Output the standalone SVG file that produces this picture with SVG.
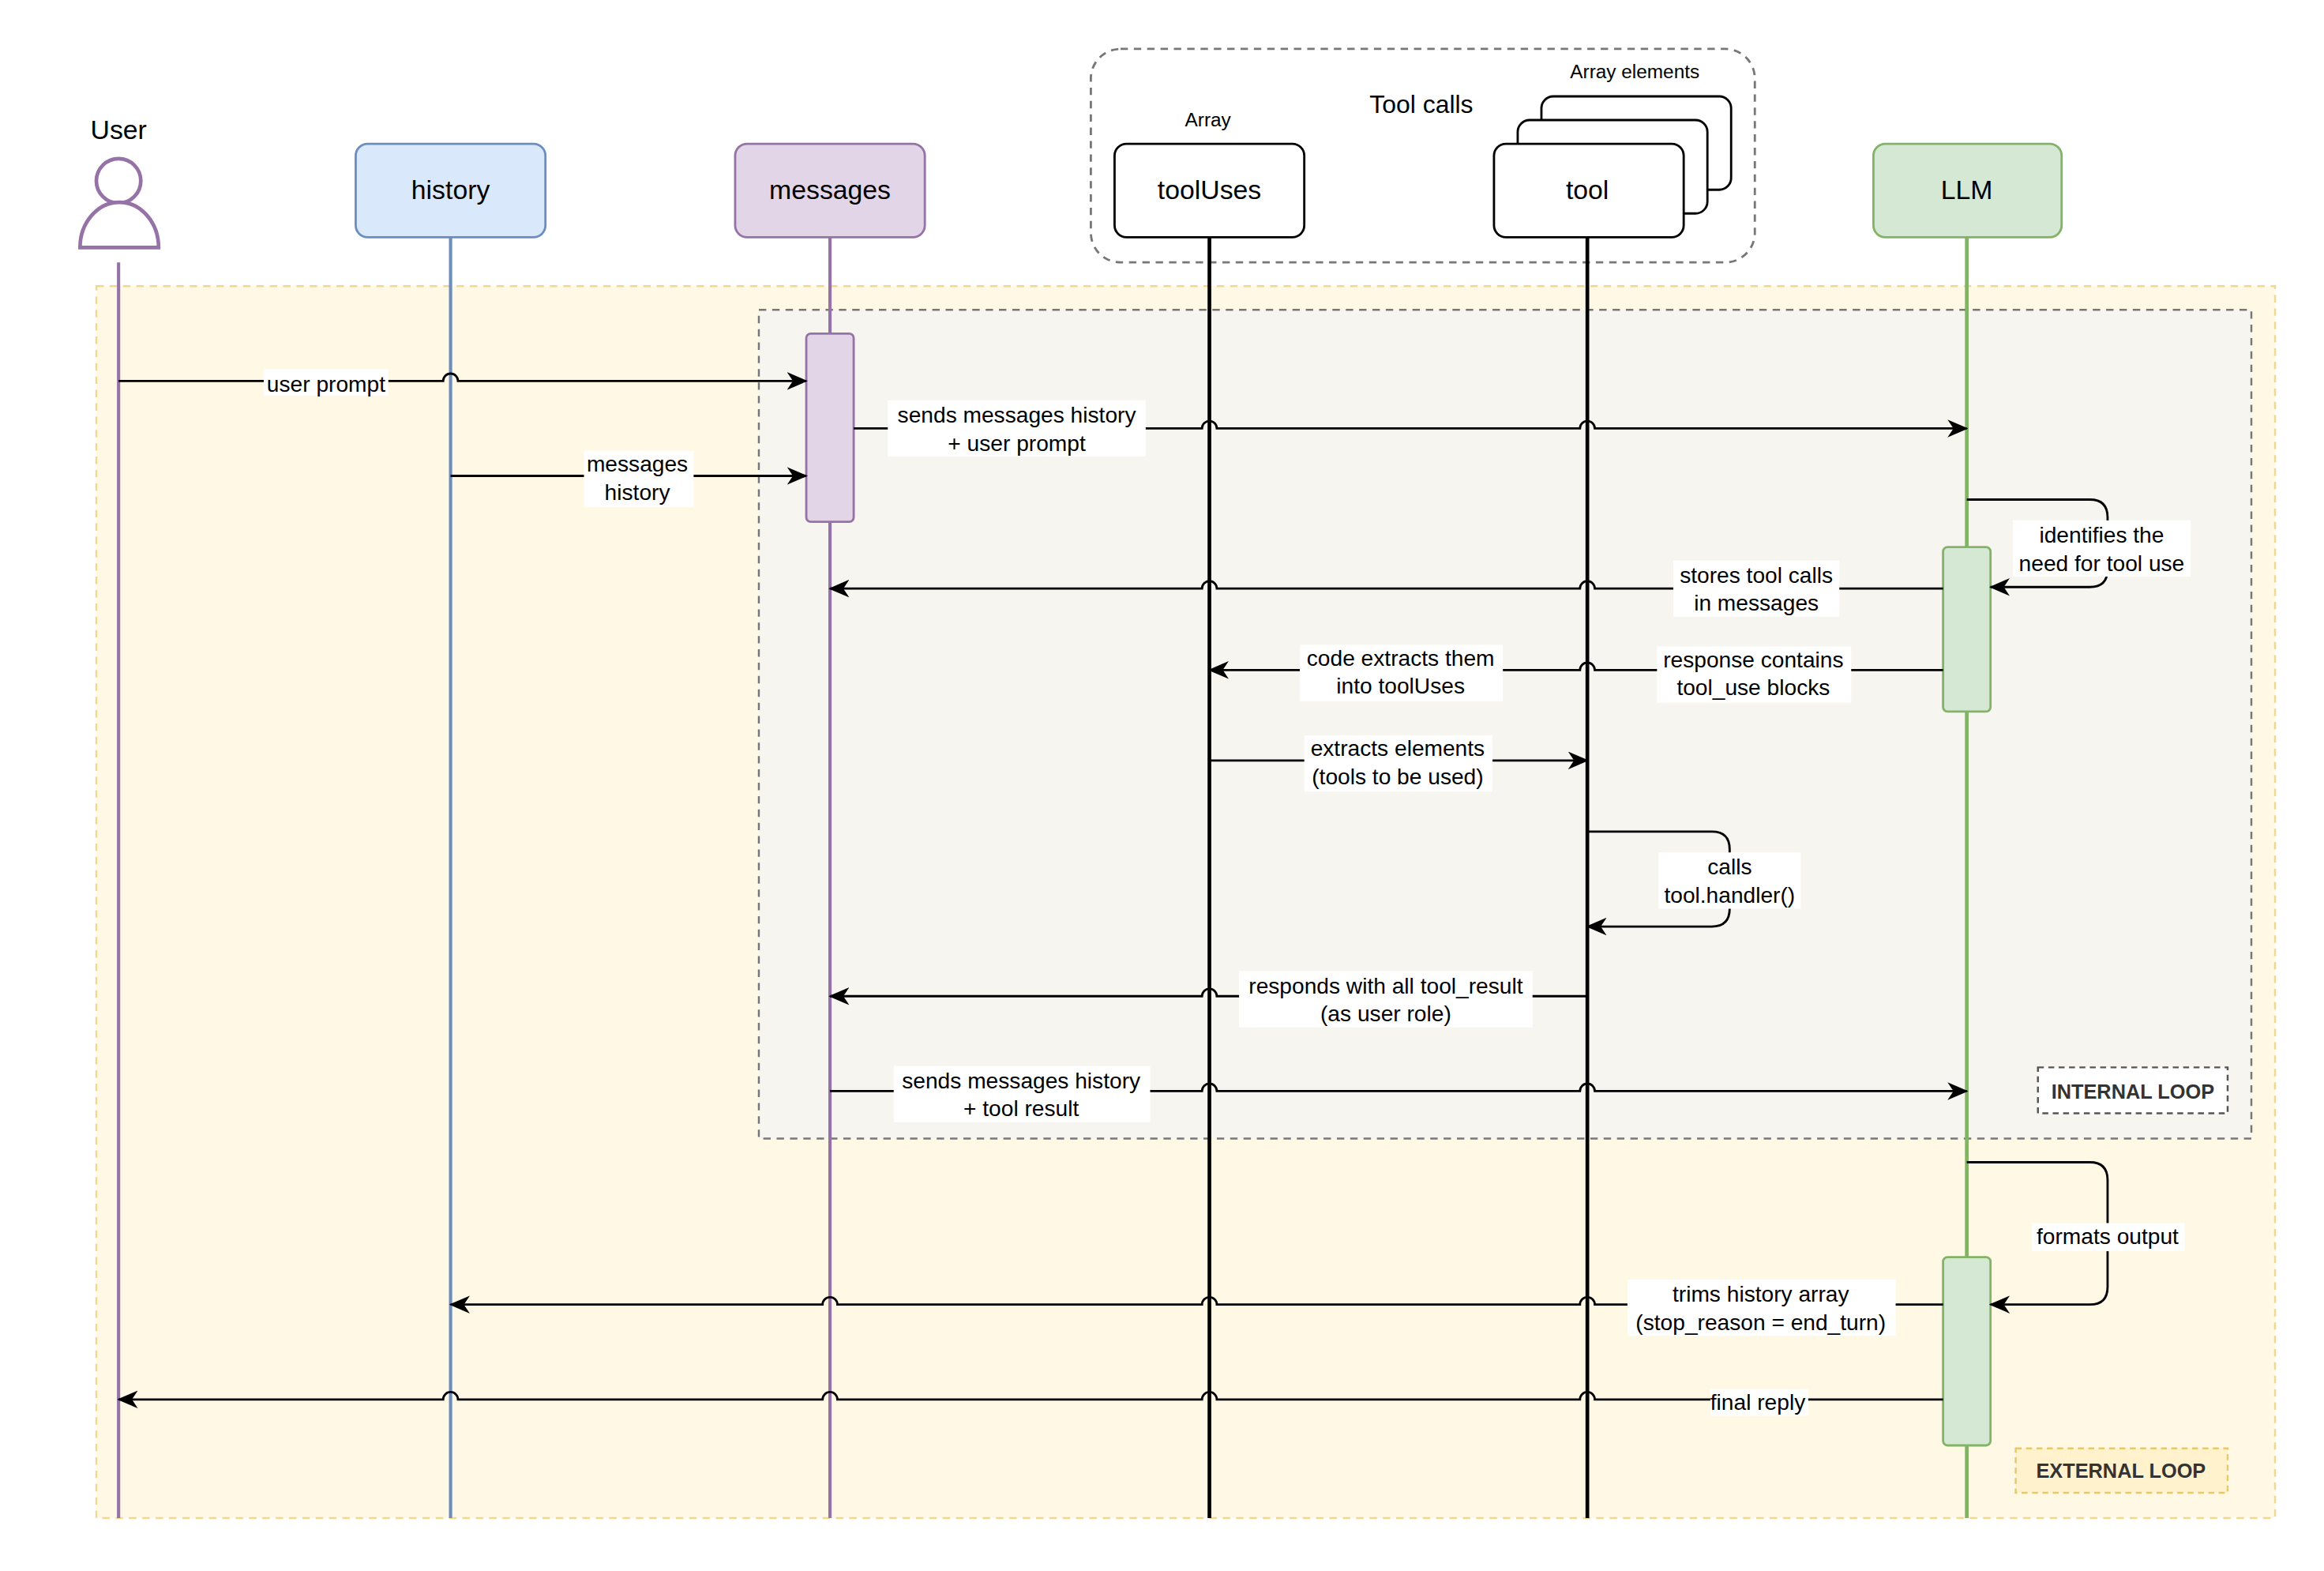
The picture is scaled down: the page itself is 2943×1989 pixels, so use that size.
<svg xmlns="http://www.w3.org/2000/svg" width="2943" height="1989" viewBox="0 0 2943 1989">
<style>
text{font-family:"Liberation Sans",Arial,sans-serif;fill:#000;text-anchor:middle}
.lbl{font-size:15px}
.big{font-size:18px}
.sm{font-size:13px}
.bold{font-size:13.5px;font-weight:bold;fill:#333}
.msg{fill:none;stroke:#000;stroke-width:1.5}
.bg{fill:#fff}
</style>
<defs>
<marker id="ah" markerUnits="userSpaceOnUse" markerWidth="14" markerHeight="12" refX="13" refY="6" orient="auto">
<path d="M0,0 L14,6 L0,12 L4,6 z" fill="#000"/>
</marker>
</defs>
<rect width="2943" height="1989" fill="#fff"/>
<g transform="scale(1.8769)">
<g id="external-loop">
<rect x="65" y="193" width="1470" height="831" fill="#fff8e4" stroke="#f0d890" stroke-width="1.3" stroke-dasharray="5,4"/>
</g>
<g id="internal-loop">
<rect x="512" y="209" width="1007" height="559" fill="#f6f5f0" stroke="#777" stroke-width="1.3" stroke-dasharray="5,4"/>
<rect x="1375" y="720" width="128" height="31" fill="#fff" stroke="#555" stroke-width="1.3" stroke-dasharray="4,3"/>
<text class="bold" x="1439" y="741">INTERNAL LOOP</text>
</g>
<g id="external-label">
<rect x="1360" y="977" width="143" height="30" fill="#fff2cc" stroke="#e6c96a" stroke-width="1.3" stroke-dasharray="4,3"/>
<text class="bold" x="1431" y="997">EXTERNAL LOOP</text>
</g>
<g id="tool-calls">
<rect x="736" y="33" width="448" height="144" rx="20" fill="none" stroke="#777" stroke-width="1.5" stroke-dasharray="5,4"/>
<text x="959" y="76" style="font-size:17px">Tool calls</text>
<text class="sm" x="815" y="85">Array</text>
<text class="sm" x="1103" y="53">Array elements</text>
</g>
<g id="lifelines" fill="none">
<line x1="80" y1="177" x2="80" y2="1024" stroke="#9673a6" stroke-width="2.2"/>
<line x1="304" y1="160" x2="304" y2="1024" stroke="#6c8ebf" stroke-width="2.2"/>
<line x1="560" y1="160" x2="560" y2="1024" stroke="#9673a6" stroke-width="2.2"/>
<line x1="816" y1="160" x2="816" y2="1024" stroke="#000" stroke-width="2.5"/>
<line x1="1071" y1="160" x2="1071" y2="1024" stroke="#000" stroke-width="2.5"/>
<line x1="1327" y1="160" x2="1327" y2="1024" stroke="#82b366" stroke-width="2.5"/>
</g>
<g id="User">
<circle cx="80" cy="122" r="15" fill="#fff" stroke="#9673a6" stroke-width="2.5"/>
<path d="M54,167 A26,30 0 0 1 107,167 Z" fill="#fff" stroke="#9673a6" stroke-width="2.5"/>
<text class="big" x="80" y="94">User</text>
</g>
<g id="history">
<rect x="240" y="97" width="128" height="63" rx="8" fill="#dae8fc" stroke="#6c8ebf" stroke-width="1.5"/>
<text class="big" x="304" y="134">history</text>
</g>
<g id="messages">
<rect x="496" y="97" width="128" height="63" rx="8" fill="#e1d5e7" stroke="#9673a6" stroke-width="1.5"/>
<text class="big" x="560" y="134">messages</text>
</g>
<g id="toolUses">
<rect x="752" y="97" width="128" height="63" rx="8" fill="#fff" stroke="#000" stroke-width="1.5"/>
<text class="big" x="816" y="134">toolUses</text>
</g>
<g id="tool">
<rect x="1040" y="65" width="128" height="63" rx="8" fill="#fff" stroke="#000" stroke-width="1.5"/>
<rect x="1024" y="81" width="128" height="63" rx="8" fill="#fff" stroke="#000" stroke-width="1.5"/>
<rect x="1008" y="97" width="128" height="63" rx="8" fill="#fff" stroke="#000" stroke-width="1.5"/>
<text class="big" x="1071" y="134">tool</text>
</g>
<g id="LLM">
<rect x="1264" y="97" width="127" height="63" rx="8" fill="#d5e8d4" stroke="#82b366" stroke-width="1.5"/>
<text class="big" x="1327" y="134">LLM</text>
</g>
<g id="activations">
<rect x="544" y="225" width="32" height="127" rx="3" fill="#e1d5e7" stroke="#9673a6" stroke-width="1.5"/>
<rect x="1311" y="369" width="32" height="111" rx="3" fill="#d5e8d4" stroke="#82b366" stroke-width="1.5"/>
<rect x="1311" y="848" width="32" height="127" rx="3" fill="#d5e8d4" stroke="#82b366" stroke-width="1.5"/>
</g>
<g id="connectors">
<path class="msg" marker-end="url(#ah)" d="M80,257 H299 a5,5 0 0 1 10,0 H544"/>
<path class="msg" marker-end="url(#ah)" d="M304,321 H544"/>
<path class="msg" marker-end="url(#ah)" d="M576,289 H811 a5,5 0 0 1 10,0 H1066 a5,5 0 0 1 10,0 H1327"/>
<path class="msg" marker-end="url(#ah)" d="M1327,337 H1410 q12,0 12,12 V384 q0,12 -12,12 H1343"/>
<path class="msg" marker-end="url(#ah)" d="M1311,397 H1076 a5,5 0 0 0 -10,0 H821 a5,5 0 0 0 -10,0 H560"/>
<path class="msg" marker-end="url(#ah)" d="M1311,452 H1076 a5,5 0 0 0 -10,0 H816"/>
<path class="msg" marker-end="url(#ah)" d="M816,513 H1071"/>
<path class="msg" marker-end="url(#ah)" d="M1071,561 H1155 q12,0 12,12 V613 q0,12 -12,12 H1071"/>
<path class="msg" marker-end="url(#ah)" d="M1071,672 H821 a5,5 0 0 0 -10,0 H560"/>
<path class="msg" marker-end="url(#ah)" d="M560,736 H811 a5,5 0 0 1 10,0 H1066 a5,5 0 0 1 10,0 H1327"/>
<path class="msg" marker-end="url(#ah)" d="M1327,784 H1410 q12,0 12,12 V868 q0,12 -12,12 H1343"/>
<path class="msg" marker-end="url(#ah)" d="M1311,880 H1076 a5,5 0 0 0 -10,0 H821 a5,5 0 0 0 -10,0 H565 a5,5 0 0 0 -10,0 H304"/>
<path class="msg" marker-end="url(#ah)" d="M1311,944 H1076 a5,5 0 0 0 -10,0 H821 a5,5 0 0 0 -10,0 H565 a5,5 0 0 0 -10,0 H309 a5,5 0 0 0 -10,0 H80"/>
</g>
<g id="labels">
<rect class="bg" x="178" y="249" width="84" height="18"/><text class="lbl" x="220" y="264">user prompt</text>
<rect class="bg" x="394" y="304" width="74" height="38"/><text class="lbl" x="430" y="318">messages</text><text class="lbl" x="430" y="337">history</text>
<rect class="bg" x="599" y="270" width="174" height="38"/><text class="lbl" x="686" y="285">sends messages history</text><text class="lbl" x="686" y="304">+ user prompt</text>
<rect class="bg" x="1358" y="351" width="120" height="38"/><text class="lbl" x="1418" y="366">identifies the</text><text class="lbl" x="1418" y="385">need for tool use</text>
<rect class="bg" x="1129" y="378" width="112" height="38"/><text class="lbl" x="1185" y="393">stores tool calls</text><text class="lbl" x="1185" y="412">in messages</text>
<rect class="bg" x="877" y="435" width="137" height="38"/><text class="lbl" x="945" y="449">code extracts them</text><text class="lbl" x="945" y="468">into toolUses</text>
<rect class="bg" x="1118" y="436" width="131" height="38"/><text class="lbl" x="1183" y="450">response contains</text><text class="lbl" x="1183" y="469">tool_use blocks</text>
<rect class="bg" x="880" y="496" width="127" height="38"/><text class="lbl" x="943" y="510">extracts elements</text><text class="lbl" x="943" y="529">(tools to be used)</text>
<rect class="bg" x="1119" y="575" width="96" height="38"/><text class="lbl" x="1167" y="590">calls</text><text class="lbl" x="1167" y="609">tool.handler()</text>
<rect class="bg" x="836" y="655" width="198" height="38"/><text class="lbl" x="935" y="670">responds with all tool_result</text><text class="lbl" x="935" y="689">(as user role)</text>
<rect class="bg" x="603" y="719" width="173" height="38"/><text class="lbl" x="689" y="734">sends messages history</text><text class="lbl" x="689" y="753">+ tool result</text>
<rect class="bg" x="1371" y="825" width="103" height="19"/><text class="lbl" x="1422" y="839">formats output</text>
<rect class="bg" x="1098" y="863" width="181" height="38"/><text class="lbl" x="1188" y="878">trims history array</text><text class="lbl" x="1188" y="897">(stop_reason = end_turn)</text>
<rect class="bg" x="1154" y="937" width="66" height="18"/><text class="lbl" x="1186" y="951">final reply</text>
</g>
</g>
</svg>
